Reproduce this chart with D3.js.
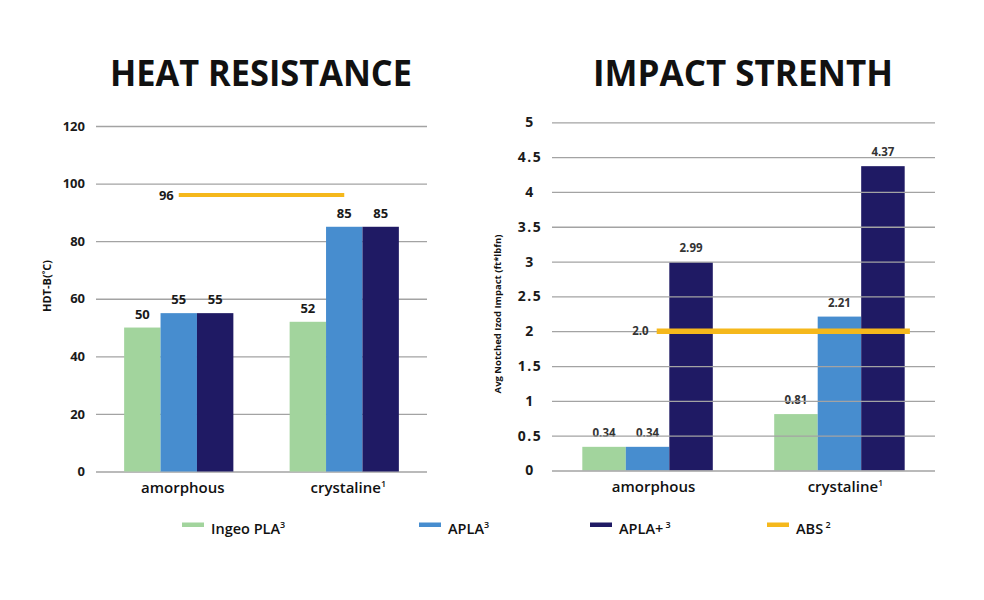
<!DOCTYPE html>
<html>
<head>
<meta charset="utf-8">
<script src="https://cdn.jsdelivr.net/npm/d3@7"></script>
<style>
  html, body { margin: 0; padding: 0; background: #fff; }
  svg { display: block; font-family: "Open Sans", "Noto Sans", sans-serif; }
</style>
</head>
<body>
<svg id="chart" width="984" height="600"></svg>
<script>
// ---- data ----
const categories = ["amorphous", "crystaline"];
const categorySup = ["", "1"];
const series = ["Ingeo PLA", "APLA", "APLA+"];
const seriesSup = ["3", "3", " 3"];
const seriesColors = ["#a2d49d", "#478dcf", "#1f1a64"];
const absName = "ABS";
const absSup = " 2";
const absColor = "#f5b81c";

const heatIngeo = [50, 52];
const heatAPLA = [55, 85];
const heatAPLAplus = [55, 85];
const heatABS = 96;
const heatTicks = [0, 20, 40, 60, 80, 100, 120];

const impactIngeo = [0.34, 0.81];
const impactAPLA = [0.34, 2.21];
const impactAPLAplus = [2.99, 4.37];
const impactABS = 2.0;
const impactTicks = [0, 0.5, 1, 1.5, 2, 2.5, 3, 3.5, 4, 4.5, 5];
const impactTickLabels = ["0", "0.5", "1", "1.5", "2", "2.5", "3", "3.5", "4", "4.5", "5"];

const heatSeries = [heatIngeo, heatAPLA, heatAPLAplus];
const impactSeries = [impactIngeo, impactAPLA, impactAPLAplus];

const svg = d3.select("#chart");

// ---- titles ----
svg.append("text").attr("x", 110).attr("y", 86)
  .attr("font-size", 36).attr("font-weight", 700).attr("fill", "#111")
  .attr("textLength", 302).attr("lengthAdjust", "spacingAndGlyphs")
  .text("HEAT RESISTANCE");
svg.append("text").attr("x", 593).attr("y", 86)
  .attr("font-size", 36).attr("font-weight", 700).attr("fill", "#111")
  .attr("textLength", 300).attr("lengthAdjust", "spacingAndGlyphs")
  .text("IMPACT STRENTH");

// ---- generic chart ----
function drawChart(cfg) {
  const g = svg.append("g");
  const x = d3.scaleBand().domain(categories).range(cfg.xRange)
    .paddingInner(cfg.padIn).paddingOuter(cfg.padOut);
  const xs = d3.scaleBand().domain(series).range([0, x.bandwidth()]);
  const y = d3.scaleLinear().domain(cfg.yDomain).range(cfg.yRange);
  const w = cfg.xRange[1] - cfg.xRange[0];

  const gridG = g.append("g").attr("transform", `translate(${cfg.xRange[0]},0)`);
  const yAxis = d3.axisLeft(y).tickValues(cfg.ticks)
    .tickFormat((d, i) => cfg.tickLabels[i])
    .tickSize(-w).tickPadding(cfg.tickPad);
  gridG.call(yAxis);
  gridG.select(".domain").remove();
  gridG.selectAll(".tick line").attr("stroke", "#a3a3a3").attr("stroke-width", 1.3);
  gridG.selectAll(".tick text")
    .attr("font-family", "'Open Sans', sans-serif")
    .attr("font-size", cfg.tickFont).attr("font-weight", 700).attr("fill", "#1a1a1a")
    .attr("letter-spacing", cfg.tickSpacing)
    .attr("text-anchor", cfg.tickAnchor);
  if (cfg.tickAnchor === "middle") gridG.selectAll(".tick text").attr("x", -cfg.tickPad);

  const barsG = g.append("g");
  categories.forEach((c, ci) => {
    series.forEach((s, si) => {
      const v = cfg.values[si][ci];
      barsG.append("rect")
        .attr("x", x(c) + xs(s)).attr("width", xs.bandwidth())
        .attr("y", y(v)).attr("height", y(0) - y(v))
        .attr("fill", seriesColors[si]);
      g.append("text")
        .attr("x", x(c) + xs(s) + xs.bandwidth() / 2)
        .attr("y", y(v) - cfg.labelGap)
        .attr("text-anchor", "middle")
        .attr("font-size", cfg.labelFont).attr("font-weight", 700)
        .attr("fill", cfg.labelColor)
        .text(cfg.fmt(v));
    });
  });
  if (cfg.gridOnTop) gridG.raise();

  // category axis
  const xAxisG = g.append("g").attr("transform", `translate(0,${y(0)})`);
  const xAxis = d3.axisBottom(x).tickSize(0).tickPadding(cfg.catPad).tickFormat("");
  xAxisG.call(xAxis);
  xAxisG.select(".domain").remove();
  xAxisG.selectAll(".tick").each(function(d, i) {
    const t = d3.select(this).append("text")
      .attr("y", cfg.catPad).attr("dy", "0.71em").attr("x", cfg.catDx)
      .attr("text-anchor", "middle").attr("fill", "#111")
      .attr("font-family", "'Open Sans', sans-serif")
      .attr("font-size", 15).attr("font-weight", 600);
    t.append("tspan").text(categories[i]);
    if (categorySup[i]) t.append("tspan").attr("font-size", 9).attr("dy", -6).text(categorySup[i]);
  });

  // ABS line
  const ax0 = x(categories[0]) + x.bandwidth() * cfg.absStart;
  const ax1 = x(categories[1]) + x.bandwidth() * cfg.absEnd;
  g.append("line").attr("x1", ax0).attr("x2", ax1)
    .attr("y1", y(cfg.abs)).attr("y2", y(cfg.abs))
    .attr("stroke", absColor).attr("stroke-width", cfg.absWidth);
  g.append("text").attr("x", ax0 - cfg.absLabelGap).attr("y", y(cfg.abs))
    .attr("dy", "0.35em").attr("text-anchor", "end")
    .attr("font-size", cfg.absFont).attr("font-weight", 700).attr("fill", cfg.labelColor)
    .text(cfg.absFmt(cfg.abs));

  // y title
  g.append("text")
    .attr("transform", `translate(${cfg.yTitleX},${cfg.yTitleY}) rotate(-90)`)
    .attr("text-anchor", "middle").attr("dy", "0.35em")
    .attr("font-size", cfg.yTitleFont).attr("font-weight", 700).attr("fill", "#111")
    .text(cfg.yTitle);
}

drawChart({
  xRange: [96, 427], padIn: 0.34, padOut: 0.17,
  yDomain: [0, 120], yRange: [471.5, 126],
  ticks: heatTicks, tickLabels: heatTicks.map(String), tickPad: 11, tickFont: 13,
  tickSpacing: 0, tickAnchor: "end",
  values: heatSeries, labelGap: 9, labelFont: 13, labelColor: "#1a1a1a",
  fmt: d3.format("d"), gridOnTop: false,
  catPad: 11, catDx: 4,
  abs: heatABS, absStart: 0.5, absEnd: 0.5, absWidth: 4, absLabelGap: 5, absFont: 13,
  absFmt: d3.format("d"),
  yTitle: "HDT-B(˚C)", yTitleX: 47, yTitleY: 286, yTitleFont: 11
});

drawChart({
  xRange: [552, 935], padIn: 0.32, padOut: 0.158,
  yDomain: [0, 5], yRange: [470.5, 122.3],
  ticks: impactTicks, tickLabels: impactTickLabels, tickPad: 22, tickFont: 14,
  tickSpacing: 1.5, tickAnchor: "middle",
  values: impactSeries, labelGap: 10, labelFont: 11.5, labelColor: "#333",
  fmt: d3.format(".2f"), gridOnTop: true,
  catPad: 11, catDx: 6,
  abs: impactABS, absStart: 0.57, absEnd: 1.04, absWidth: 5.5, absLabelGap: 8, absFont: 11.5,
  absFmt: d3.format(".1f"),
  yTitle: "Avg Notched Izod Impact (ft*lbfn)", yTitleX: 498, yTitleY: 314, yTitleFont: 9.5
});

// ---- legend ----
const legendItems = [
  { name: series[0], sup: seriesSup[0], color: seriesColors[0] },
  { name: series[1], sup: seriesSup[1], color: seriesColors[1] },
  { name: series[2], sup: seriesSup[2], color: seriesColors[2] },
  { name: absName, sup: absSup, color: absColor }
];
const legendX = [182, 419, 590, 767];
const lg = svg.append("g");
legendItems.forEach((it, i) => {
  lg.append("rect").attr("x", legendX[i]).attr("y", 522.5).attr("width", 22).attr("height", 4.5)
    .attr("fill", it.color);
  const t = lg.append("text").attr("x", legendX[i] + 29).attr("y", 534)
    .attr("font-size", 14.5).attr("font-weight", 600).attr("fill", "#111");
  t.append("tspan").text(it.name);
  t.append("tspan").attr("font-size", 9).attr("dy", -6).attr("xml:space", "preserve").text(it.sup);
});
</script>
</body>
</html>
